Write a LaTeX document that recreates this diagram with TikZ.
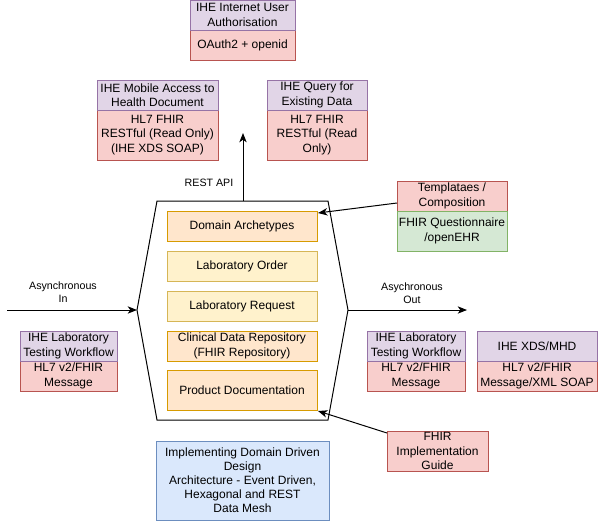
\documentclass[tikz,border=0pt]{standalone}
\usepackage{fontspec}
\setmainfont{Liberation Sans}
\usetikzlibrary{arrows.meta,calc}
\definecolor{purF}{HTML}{E1D5E7}\definecolor{purD}{HTML}{9673A6}
\definecolor{redF}{HTML}{F8CECC}\definecolor{redD}{HTML}{B85450}
\definecolor{grnF}{HTML}{D5E8D4}\definecolor{grnD}{HTML}{82B366}
\definecolor{bluF}{HTML}{DAE8FC}\definecolor{bluD}{HTML}{6C8EBF}
\definecolor{orgF}{HTML}{FFE6CC}\definecolor{orgD}{HTML}{D79B00}
\definecolor{yelF}{HTML}{FFF2CC}\definecolor{yelD}{HTML}{D6B656}
\tikzset{
  base/.style={rectangle,draw,line width=0.75pt,inner sep=0pt,outer sep=0pt,align=center,
    font=\fontsize{9}{10.8}\selectfont},
  pur/.style={base,fill=purF,draw=purD},
  redb/.style={base,fill=redF,draw=redD},
  grn/.style={base,fill=grnF,draw=grnD},
  blu/.style={base,fill=bluF,draw=bluD,font=\fontsize{9}{10.5}\selectfont},
  org/.style={base,fill=orgF,draw=orgD},
  yel/.style={base,fill=yelF,draw=yelD},
  lbl/.style={align=center,inner sep=0pt,font=\fontsize{8}{9.75}\selectfont},
  conn/.style={line width=0.75pt,-{Stealth[length=7pt,width=5.5pt,inset=2pt]}},
}
\begin{document}
\begin{tikzpicture}[x=0.75pt,y=-0.75pt]
\useasboundingbox (0,0) rectangle (598,521);
% top boxes
\node[redb,minimum width=105*0.75pt,minimum height=30*0.75pt] (authR) at (242.5,45) {OAuth2 + openid};
\node[pur,minimum width=105*0.75pt,minimum height=30*0.75pt] (authP) at (242.5,15) {IHE Internet User\\Authorisation};
\node[redb,minimum width=121*0.75pt,minimum height=50*0.75pt] (mobR) at (157.5,135) {HL7 FHIR\\RESTful (Read Only)\\(IHE XDS SOAP)};
\node[pur,minimum width=121*0.75pt,minimum height=30*0.75pt] (mobP) at (157.5,95) {IHE Mobile Access to\\Health Document};
\node[redb,minimum width=100*0.75pt,minimum height=50*0.75pt] (qR) at (317,135) {HL7 FHIR\\RESTful (Read\\Only)};
\node[pur,minimum width=100*0.75pt,minimum height=30*0.75pt] (qP) at (317,95) {IHE Query for\\Existing Data};
% hexagon
\draw[line width=0.75pt,fill=white] (157,201) -- (328,201) -- (348,310) -- (328,420) -- (157,420) -- (137,310) -- cycle;
\coordinate (hexTop) at (243,201);
\coordinate (hexL) at (137,310);
\coordinate (hexR) at (348,310);
\coordinate (restEnd) at (243,133);
\coordinate (inStart) at (7,310);
\coordinate (outEnd) at (467,310);
% inner boxes
\node[org,minimum width=150*0.75pt,minimum height=30*0.75pt] (dom) at (242,226) {Domain Archetypes};
\node[yel,minimum width=150*0.75pt,minimum height=30*0.75pt] (lo) at (242,266) {Laboratory Order};
\node[yel,minimum width=150*0.75pt,minimum height=30*0.75pt] (lr) at (242,306) {Laboratory Request};
\node[org,minimum width=150*0.75pt,minimum height=30*0.75pt] (cdr) at (242,346) {Clinical Data Repository\\(FHIR Repository)};
\node[org,minimum width=150*0.75pt,minimum height=40*0.75pt] (prod) at (242,390.5) {Product Documentation};
% templates
\node[redb,minimum width=110*0.75pt,minimum height=30*0.75pt] (tR) at (452,196) {Templataes /\\Composition};
\node[grn,minimum width=110*0.75pt,minimum height=40*0.75pt] (tG) at (452,231) {FHIR Questionnaire\\/openEHR};
% left lab
\node[redb,minimum width=97*0.75pt,minimum height=30*0.75pt] (lR) at (68.5,376) {HL7 v2/FHIR\\Message};
\node[pur,minimum width=97*0.75pt,minimum height=30*0.75pt] (lP) at (68.5,346) {IHE Laboratory\\Testing Workflow};
% right lab
\node[redb,minimum width=98*0.75pt,minimum height=30*0.75pt] (rR) at (416,376) {HL7 v2/FHIR\\Message};
\node[pur,minimum width=98*0.75pt,minimum height=30*0.75pt] (rP) at (416,346) {IHE Laboratory\\Testing Workflow};
% XDS
\node[redb,minimum width=120*0.75pt,minimum height=30*0.75pt] (xR) at (537,376) {HL7 v2/FHIR\\Message/XML SOAP};
\node[pur,minimum width=120*0.75pt,minimum height=30*0.75pt] (xP) at (537,346) {IHE XDS/MHD};
% FHIR IG
\node[redb,minimum width=101*0.75pt,minimum height=40*0.75pt] (fig) at (437.5,451) {FHIR\\Implementation\\Guide};
% blue
\node[blu,minimum width=173*0.75pt,minimum height=79*0.75pt] (ddd) at (242.5,480.5) {Implementing Domain Driven\\Design\\Architecture - Event Driven,\\Hexagonal and REST\\Data Mesh};
% connectors
\draw[conn] (hexTop) -- (restEnd);
\node[lbl] (restLbl) at (209,183) {REST API};
\draw[conn] (inStart) -- (hexL);
\node[lbl] (inLbl) at (63,292.5) {Asynchronous\\In};
\draw[conn] (hexR) -- (outEnd);
\node[lbl] (outLbl) at (412,293.5) {Asychronous\\Out};
\draw[conn] ($(tR.north west)+(0,22)$) -- ($(dom.north east)+(1,2)$);
\draw[conn] ($(fig.north west)+(0,2)$) -- ($(prod.south east)+(1,0.5)$);
\end{tikzpicture}
\end{document}
